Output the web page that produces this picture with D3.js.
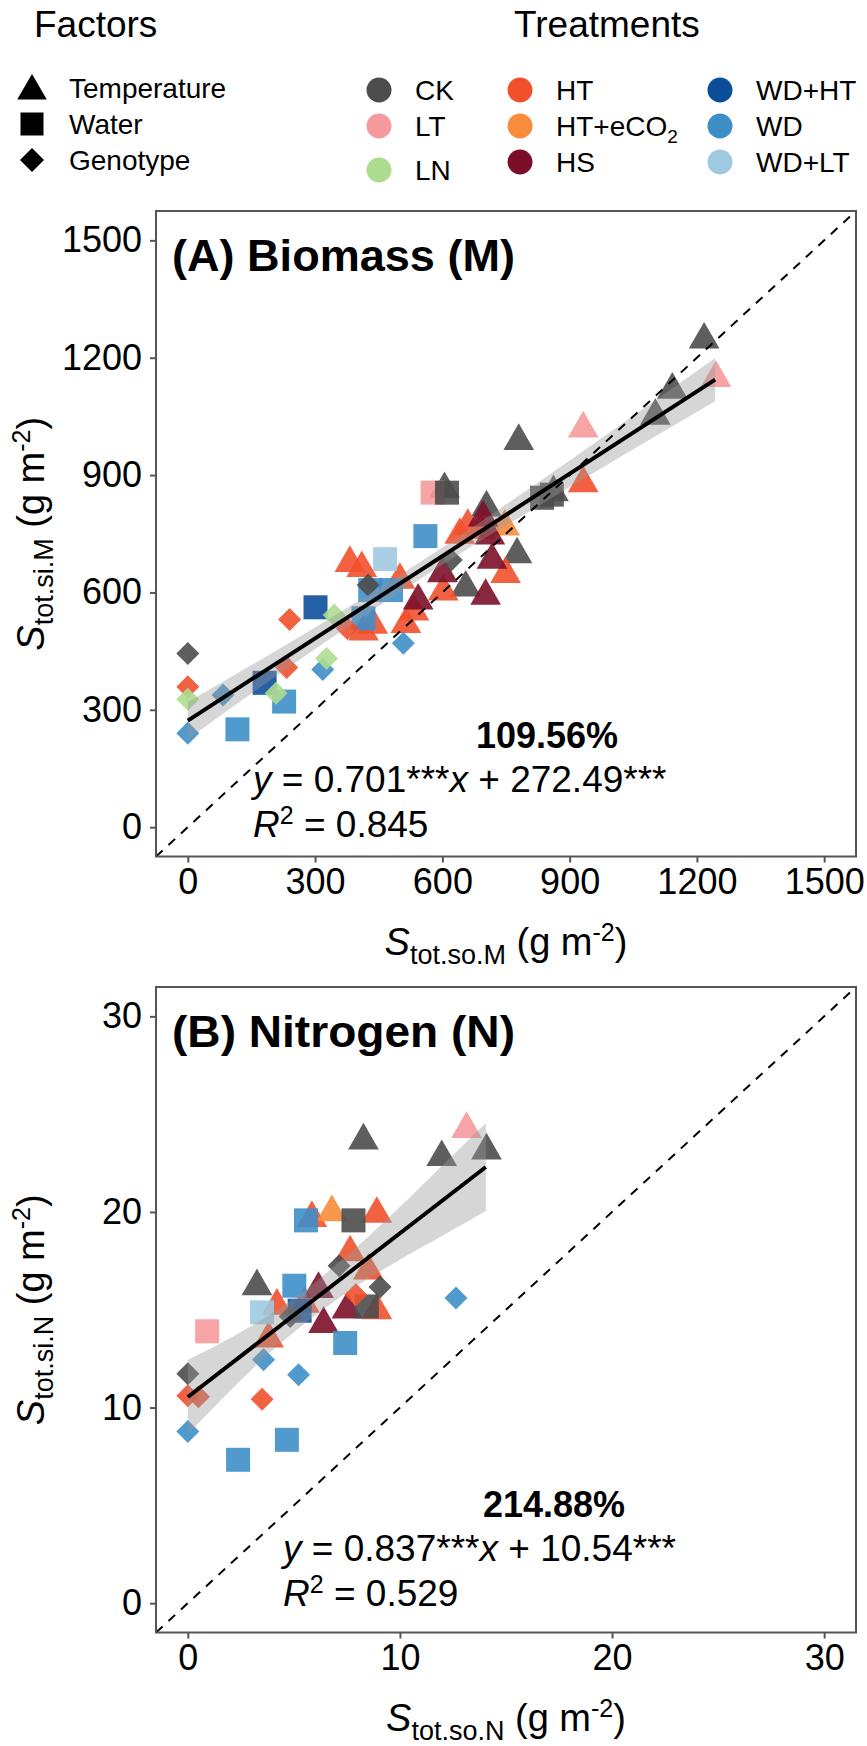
<!DOCTYPE html>
<html>
<head>
<meta charset="utf-8">
<script src="https://cdn.jsdelivr.net/npm/d3@7"></script>
<style>
  html, body { margin: 0; padding: 0; background: #fff; }
  svg { display: block; }
  text { font-family: "Liberation Sans", Arial, sans-serif; fill: #000; }
</style>
</head>
<body>
<svg id="fig" width="867" height="1746"></svg>
<script>
// ---------- treatments & factors ----------
const treatments = ["CK", "LT", "LN", "HT", "HT+eCO2", "HS", "WD+HT", "WD", "WD+LT"];
const treatmentColors = ["#4d4d4d", "#f59a9c", "#addc8f", "#f1502c", "#f88c3c", "#7b0f29", "#0b4f9c", "#3e8fc8", "#9ecae1"];
const factors = ["Temperature", "Water", "Genotype"];

// ---------- panel A: biomass (x = S_tot.so.M, y = S_tot.si.M) ----------
// Genotype
const bioGenoTrt = ["CK","HT","LN","WD","WD","LN","HT","HT","WD","LN","LN","HT","CK","WD","CK"];
const bioGenoX   = [0, 0, 0, 0, 83, 208, 233, 240, 318, 327, 345, 376, 425, 508, 621];
const bioGenoY   = [444, 359, 327, 240, 338, 342, 408, 531, 403, 431, 542, 508, 619, 470, 683];
// Water
const bioWaterTrt = ["WD","WD+HT","WD","WD+HT","WD","WD","WD","WD+LT","WD","LT","CK","CK","CK"];
const bioWaterX   = [117, 181, 227, 301, 414, 430, 479, 465, 560, 577, 611, 835, 858];
const bioWaterY   = [250, 369, 321, 562, 534, 606, 606, 685, 744, 855, 855, 842, 850];
// Temperature
const bioTempTrt = ["CK","CK","CK","CK","CK","CK","CK","CK","CK","LT","LT",
                    "HT","HT","HT","HT","HT","HT","HT","HT","HT","HT","HT","HT","HT",
                    "HT+eCO2","HS","HS","HS","HS","HS","HS"];
const bioTempX   = [605, 704, 780, 776, 655, 862, 1102, 1142, 1217, 932, 1245,
                    932, 749, 602, 514, 436, 414, 382, 410, 533, 500, 641, 660, 690,
                    747, 696, 712, 717, 702, 600, 543];
const bioTempY   = [864, 817, 987, 697, 612, 856, 1051, 1118, 1246, 1019, 1148,
                    879, 647, 602, 519, 517, 500, 675, 662, 551, 632, 747, 770, 760,
                    768, 791, 745, 683, 591, 649, 579];

// fitted line and its 95% band
const bioSlope = 0.701, bioIntercept = 272.49, bioXmax = 1243;
const bioBandX  = [0, 200, 400, 600, 800, 1000, 1243];
const bioBandLo = [225, 380, 529, 671, 804, 934, 1089];
const bioBandHi = [320, 446, 577, 715, 862, 1013, 1199];
const bioTicks = [0, 300, 600, 900, 1200, 1500];

// ---------- panel B: nitrogen ----------
const nGenoTrt = ["CK","HT","HT","WD","WD","HT","WD","CK","CK","HT","CK","WD"];
const nGenoX   = [0, 0, 0.5, 0, 3.57, 3.5, 5.22, 4.83, 7.13, 7.92, 9.06, 12.64];
const nGenoY   = [11.73, 10.6, 10.55, 8.78, 12.45, 10.43, 11.68, 14.66, 17.25, 15.77, 16.16, 15.6];

const nWaterTrt = ["LT","WD+LT","WD","WD+HT","WD","CK","WD","WD","WD","CK"];
const nWaterX   = [0.91, 3.5, 5.02, 5.27, 5.57, 7.81, 7.42, 4.67, 2.37, 8.44];
const nWaterY   = [13.9, 14.87, 16.23, 14.95, 19.57, 19.57, 13.3, 8.35, 7.33, 15.17];

const nTempTrt = ["CK","HT","HT","HS","HS","HS","HT","HT","HT","HT","HT","HT+eCO2","HT","CK","LT","CK","CK"];
const nTempX   = [3.26, 4.2, 5.5, 6.16, 6.4, 7.5, 3.81, 7.65, 8.51, 8.91, 5.85, 6.79, 8.91, 8.28, 13.14, 11.97, 14.08];
const nTempY   = [16.2, 15.2, 15.3, 16.06, 14.27, 15.0, 13.52, 17.93, 17.0, 14.97, 19.69, 19.98, 19.9, 23.65, 24.24, 22.8, 23.14];

const nSlope = 0.837, nIntercept = 10.54, nXmax = 14.05;
const nBandX  = [0, 2, 4, 6, 8, 10, 12, 14.05];
const nBandLo = [8.64, 10.86, 12.94, 14.71, 16.24, 17.56, 18.78, 20.05];
const nBandHi = [12.44, 13.56, 14.84, 16.41, 18.24, 20.26, 22.38, 24.55];
const nTicks = [0, 10, 20, 30];

// ---------- helpers ----------
const svg = d3.select("#fig");
const color = d3.scaleOrdinal().domain(treatments).range(treatmentColors);

// marker paths (ggplot shapes 17 / 15 / 18)
function trianglePath(r) {
  // centroid-centred triangle, point up
  const top = 1.555 * r, half = 1.347 * r, bot = 0.778 * r;
  return `M0,${-top}L${half},${bot}L${-half},${bot}Z`;
}
function squarePath(s) { const h = s / 2; return `M${-h},${-h}H${h}V${h}H${-h}Z`; }
function diamondPath(s) { const h = s / 2; return `M0,${-h}L${h},0L0,${h}L${-h},0Z`; }
const shapePath = {
  Temperature: trianglePath(11.4),
  Water: squarePath(24),
  Genotype: diamondPath(23)
};

function zipPoints(factor, trt, xs, ys) {
  return trt.map((t, i) => ({ factor, trt: t, x: xs[i], y: ys[i] }));
}

function drawPanel(cfg) {
  const x = d3.scaleLinear().domain(cfg.domain).range([156, 856]);
  const y = d3.scaleLinear().domain(cfg.domain).range([cfg.bottom, cfg.top]);
  const g = svg.append("g");

  // points
  g.append("g").selectAll("path")
    .data(cfg.points)
    .join("path")
    .attr("d", d => shapePath[d.factor])
    .attr("transform", d => `translate(${x(d.x)},${y(d.y)})`)
    .attr("fill", d => color(d.trt))
    .attr("fill-opacity", 0.9);

  // confidence band
  const band = cfg.bandX.map((v, i) => ({ x: v, lo: cfg.bandLo[i], hi: cfg.bandHi[i] }));
  g.append("path")
    .datum(band)
    .attr("d", d3.area().x(d => x(d.x)).y0(d => y(d.lo)).y1(d => y(d.hi)).curve(d3.curveMonotoneX))
    .attr("fill", "#999999")
    .attr("fill-opacity", 0.4);

  // fitted line
  g.append("line")
    .attr("x1", x(0)).attr("y1", y(cfg.intercept))
    .attr("x2", x(cfg.xmax)).attr("y2", y(cfg.intercept + cfg.slope * cfg.xmax))
    .attr("stroke", "#000").attr("stroke-width", 4);

  // 1:1 line
  g.append("line")
    .attr("x1", x(cfg.domain[0])).attr("y1", y(cfg.domain[0]))
    .attr("x2", x(cfg.domain[1])).attr("y2", y(cfg.domain[1]))
    .attr("stroke", "#000").attr("stroke-width", 2)
    .attr("stroke-dasharray", "9,8");

  // frame
  g.append("rect")
    .attr("x", 156).attr("y", cfg.top)
    .attr("width", 700).attr("height", cfg.bottom - cfg.top)
    .attr("fill", "none").attr("stroke", "#555").attr("stroke-width", 2);

  // axes
  const fmt = d3.format("d");
  const ax = g.append("g").attr("transform", `translate(0,${cfg.bottom})`)
    .call(d3.axisBottom(x).tickValues(cfg.ticks).tickFormat(fmt).tickSize(6).tickPadding(6));
  const ay = g.append("g").attr("transform", "translate(156,0)")
    .call(d3.axisLeft(y).tickValues(cfg.ticks).tickFormat(fmt).tickSize(6).tickPadding(8));
  [ax, ay].forEach(a => {
    a.select(".domain").remove();
    a.selectAll(".tick line").attr("stroke", "#555").attr("stroke-width", 2);
    a.selectAll(".tick text").attr("font-size", 36).attr("font-family", "Liberation Sans, Arial, sans-serif").attr("fill", "#000");
  });

  // panel title
  g.append("text")
    .attr("x", 172).attr("y", cfg.top + 60)
    .attr("font-family", "Lato, 'Open Sans', sans-serif")
    .attr("font-weight", 700).attr("font-size", 45)
    .attr("textLength", 343).attr("lengthAdjust", "spacingAndGlyphs")
    .text(cfg.title);

  // axis titles
  const xt = g.append("text")
    .attr("x", 506).attr("y", cfg.bottom + 98)
    .attr("text-anchor", "middle").attr("font-size", 38);
  axisLabel(xt, cfg.xsub);

  const cy = (cfg.top + cfg.bottom) / 2;
  const yt = g.append("text")
    .attr("transform", `translate(44,${cy}) rotate(-90)`)
    .attr("text-anchor", "middle").attr("font-size", 38);
  axisLabel(yt, cfg.ysub);

  // statistics
  const ann = g.append("g");
  ann.append("text").attr("x", cfg.pctX).attr("y", cfg.pctY)
    .attr("font-weight", 700).attr("font-size", 36).text(cfg.pct);
  const eq = ann.append("text").attr("x", cfg.eqX).attr("y", cfg.pctY + 44).attr("font-size", 37);
  eq.append("tspan").attr("font-style", "italic").text("y");
  eq.append("tspan").text(` = ${cfg.slope.toFixed(3)}***`);
  eq.append("tspan").attr("font-style", "italic").text("x");
  eq.append("tspan").text(` + ${cfg.intercept.toFixed(2)}***`);
  const r2 = ann.append("text").attr("x", cfg.eqX).attr("y", cfg.pctY + 89).attr("font-size", 37);
  r2.append("tspan").attr("font-style", "italic").text("R");
  r2.append("tspan").attr("font-size", 25).attr("dy", -13).text("2");
  r2.append("tspan").attr("dy", 13).text(` = ${cfg.r2}`);
}

function axisLabel(t, sub) {
  t.append("tspan").attr("font-style", "italic").text("S");
  t.append("tspan").attr("font-size", 27).attr("dy", 9).text(sub);
  t.append("tspan").attr("dy", -9).text(" (g m");
  t.append("tspan").attr("font-size", 25).attr("dy", -14).text("-2");
  t.append("tspan").attr("dy", 14).text(")");
}

drawPanel({
  domain: [-75, 1575], top: 211, bottom: 856.5, ticks: bioTicks,
  points: [...zipPoints("Temperature", bioTempTrt, bioTempX, bioTempY),
           ...zipPoints("Water", bioWaterTrt, bioWaterX, bioWaterY),
           ...zipPoints("Genotype", bioGenoTrt, bioGenoX, bioGenoY)],
  bandX: bioBandX, bandLo: bioBandLo, bandHi: bioBandHi,
  slope: bioSlope, intercept: bioIntercept, xmax: bioXmax,
  title: "(A) Biomass (M)", xsub: "tot.so.M", ysub: "tot.si.M",
  pct: "109.56%", pctX: 476, pctY: 748, eqX: 253, r2: "0.845"
});

drawPanel({
  domain: [-1.5, 31.5], top: 987, bottom: 1632.5, ticks: nTicks,
  points: [...zipPoints("Temperature", nTempTrt, nTempX, nTempY),
           ...zipPoints("Water", nWaterTrt, nWaterX, nWaterY),
           ...zipPoints("Genotype", nGenoTrt, nGenoX, nGenoY)],
  bandX: nBandX, bandLo: nBandLo, bandHi: nBandHi,
  slope: nSlope, intercept: nIntercept, xmax: nXmax,
  title: "(B) Nitrogen (N)", xsub: "tot.so.N", ysub: "tot.si.N",
  pct: "214.88%", pctX: 483, pctY: 1517, eqX: 283, r2: "0.529"
});

// ---------- legends ----------
const leg = svg.append("g");
leg.append("text").attr("x", 34).attr("y", 37).attr("font-size", 37).text("Factors");
leg.append("text").attr("x", 514).attr("y", 37).attr("font-size", 37).text("Treatments");

const rowY = [88, 124, 160];
const legendShape = { Temperature: trianglePath(11), Water: squarePath(23), Genotype: diamondPath(24) };
factors.forEach((f, i) => {
  leg.append("path").attr("d", legendShape[f])
    .attr("transform", `translate(32,${rowY[i] + (f === "Temperature" ? 3 : 0)})`)
    .attr("fill", "#000");
  leg.append("text").attr("x", 69).attr("y", rowY[i] + 10).attr("font-size", 28).text(f);
});

const colX = [379, 520, 720];
treatments.forEach((t, i) => {
  const c = Math.floor(i / 3), r = i % 3;
  const cy = rowY[r] + (t === "LN" ? 8 : 0) + 2;
  leg.append("circle").attr("cx", colX[c]).attr("cy", cy).attr("r", 12.5).attr("fill", color(t));
  const lt = leg.append("text").attr("x", colX[c] + 36).attr("y", cy + 10).attr("font-size", 28);
  if (t === "HT+eCO2") {
    lt.append("tspan").text("HT+eCO");
    lt.append("tspan").attr("font-size", 19).attr("dy", 7).text("2");
  } else {
    lt.text(t);
  }
});
</script>
</body>
</html>
